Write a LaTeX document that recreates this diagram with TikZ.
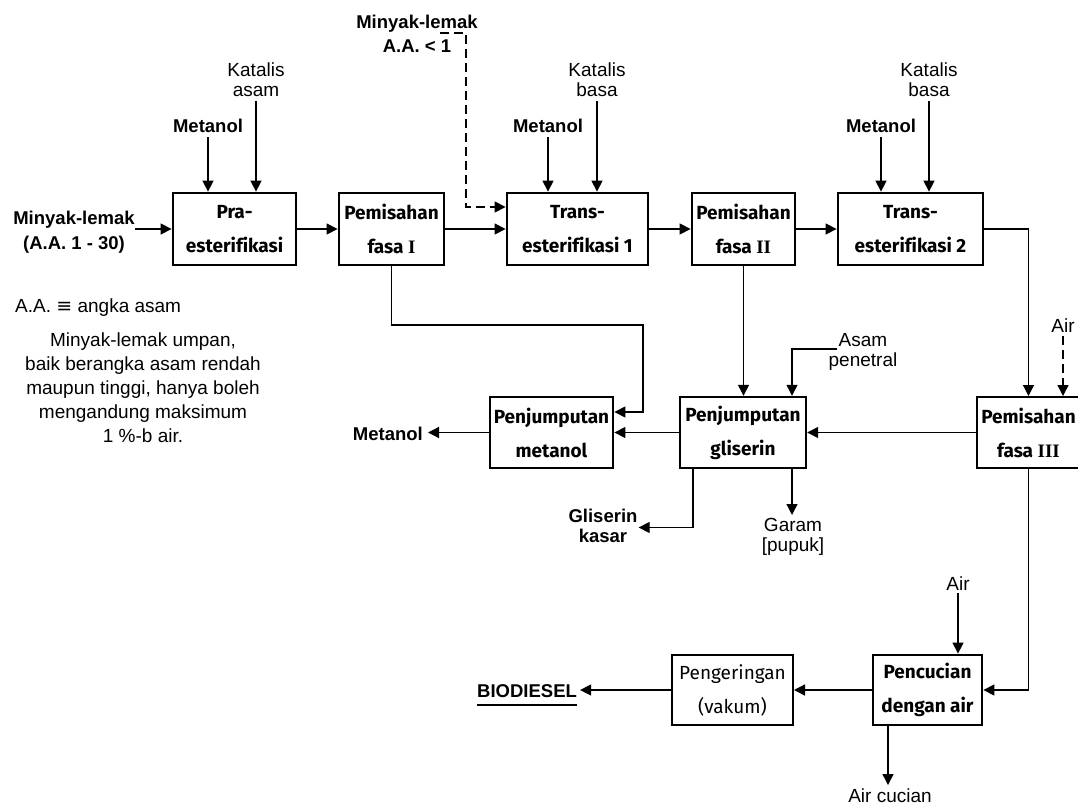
\documentclass[tikz,border=0pt]{standalone}
\usepackage{fontspec}
\setmainfont{Liberation Sans}
\newfontfamily\boxfont[Ligatures=NoCommon]{Fira Sans}
\newfontfamily\romnum{Liberation Serif}
\newfontfamily\symfont{DejaVu Sans}
\usetikzlibrary{arrows.meta}

\begin{document}
\begin{tikzpicture}[x=1pt,y=-1pt,
  heavy/.style={draw, line width=2.8pt, minimum height=72pt, inner sep=0pt,
    align=center, font=\boxfont\bfseries\fontsize{19}{34}\selectfont},
  light/.style={heavy, line width=2pt},
  conn/.style={line width=1.3pt},
  arr/.style={conn, -{Triangle[length=11pt,width=11pt]}},
  dasharr/.style={arr, dash pattern=on 9pt off 5pt},
  blab/.style={inner sep=0pt, align=center,
    font=\bfseries\fontsize{18.5}{24}\selectfont},
  tlab/.style={inner sep=0pt, align=center,
    font=\fontsize{19}{20}\selectfont},
]
\useasboundingbox (0,0) rectangle (1078,805);

% ---- process units ----
\node[heavy, minimum width=123pt] (pra) at (234.5,229) {Pra-\\esterifikasi};
\node[heavy, minimum width=105pt] (pf1) at (391.5,229) {Pemisahan\\fasa {\romnum I}};
\node[heavy, minimum width=141pt] (t1)  at (577.5,229) {Trans-\\esterifikasi 1};
\node[heavy, minimum width=103pt] (pf2) at (743.5,229) {Pemisahan\\fasa {\romnum II}};
\node[heavy, minimum width=145pt] (t2)  at (910.5,229) {Trans-\\esterifikasi 2};
\node[light, minimum width=103pt, minimum height=71pt] (pf3) at (1028.5,432.5) {Pemisahan\\fasa {\romnum III}};
\node[heavy, line width=2.4pt, minimum width=126pt, minimum height=71pt] (gli) at (743,432.5) {Penjumputan\\gliserin};
\node[heavy, minimum width=123pt, minimum height=71pt] (met) at (551.5,432.5) {Penjumputan\\metanol};
\node[light, minimum width=121pt, minimum height=70pt,
  font=\boxfont\fontsize{19}{34}\selectfont] (peng) at (732.5,690) {Pengeringan\\(vakum)};
\node[heavy, minimum width=109pt, minimum height=70pt] (pcc) at (927.5,690) {Pencucian\\dengan air};

% ---- stream labels ----
\node[blab, anchor=north, font=\bfseries\fontsize{18.5}{25}\selectfont] (oil1) at (74,210.5) {Minyak-lemak\\(A.A. 1 - 30)};
\node[blab, anchor=north] (oil2) at (417,14.5) {Minyak-lemak\\A.A. < 1};
\node[blab, anchor=base] (m1) at (208,133) {Metanol};
\node[blab, anchor=base] (m2) at (548,133) {Metanol};
\node[blab, anchor=base] (m3) at (881,133) {Metanol};
\node[tlab, anchor=north] (k1) at (256,63) {Katalis\\asam};
\node[tlab, anchor=north] (k2) at (597,63) {Katalis\\basa};
\node[tlab, anchor=north] (k3) at (929,63) {Katalis\\basa};
\node[tlab, anchor=base] (air1) at (1063,332) {Air};
\node[tlab, anchor=north] (asam) at (863,333) {Asam\\penetral};
\node[blab, anchor=base east] (mout) at (423,440) {Metanol};
\node[blab, anchor=north, font=\bfseries\fontsize{18.5}{20}\selectfont] (gk) at (603,508.5) {Gliserin\\kasar};
\node[tlab, anchor=north] (gar) at (793,518) {Garam\\{}[pupuk]};
\node[tlab, anchor=base] (air2) at (958,590) {Air};
\node[tlab, anchor=base] (acu) at (890,802) {Air cucian};
\node[blab, anchor=base west] (bio) at (477,697) {BIODIESEL};
\node[tlab, anchor=base west] (aa) at (15,312) {A.A. {\symfont ≡} angka asam};
\node[tlab, anchor=north, font=\fontsize{19}{24}\selectfont] (note) at (143,333)
  {Minyak-lemak umpan,\\baik berangka asam rendah\\maupun tinggi, hanya boleh\\mengandung maksimum\\1 \%-b air.};

% ---- bend points ----
\coordinate (d0) at (440,33);
\coordinate (d1) at (466,207);
\coordinate (j1) at (643,325);
\coordinate (j2) at (643,412);
\coordinate (a0) at (837,349);

% ---- streams ----
\draw[arr] (oil1.east |- pra.west) -- (pra.west);
\draw[arr, shorten <=4pt] (m1.south) -- (m1.south |- pra.north);
\draw[arr, shorten <=4pt] (k1.south) -- (k1.south |- pra.north);
\draw[arr] (pra.east) -- (pf1.west);
\draw[arr] (pf1.east) -- (t1.west);
\draw[dasharr] (d0) -| (d1) -- (d1 -| t1.west);
\draw[arr, shorten <=4pt] (m2.south) -- (m2.south |- t1.north);
\draw[arr, shorten <=4pt] (k2.south) -- (k2.south |- t1.north);
\draw[arr] (t1.east) -- (pf2.west);
\draw[arr] (pf2.east) -- (t2.west);
\draw[arr, shorten <=4pt] (m3.south) -- (m3.south |- t2.north);
\draw[arr, shorten <=4pt] (k3.south) -- (k3.south |- t2.north);
\draw[arr] (t2.east) -| (pf3.north);
\draw[dasharr, shorten <=4pt] (air1.south) -- (air1.south |- pf3.north);
\draw[arr] (pf1.south) |- (j1) -- (j2) -- (j2 -| met.east);
\draw[arr] (pf2.south) -- (pf2.south |- gli.north);
\draw[arr] (a0) -| ([xshift=49pt]gli.north);
\draw[arr] (pf3.west) -- (gli.east);
\draw[arr] (gli.west) -- (met.east);
\draw[arr, shorten >=5pt] (met.west) -- (met.west -| mout.east);
\draw[arr, shorten >=1pt] ([xshift=-50pt]gli.south) |- ([yshift=-2pt]gk.east);
\draw[arr, shorten >=3pt] ([xshift=49pt]gli.south) -- ([xshift=49pt]gli.south |- gar.north);
\draw[arr] (pf3.south) |- (pcc.east);
\draw[arr, shorten <=3pt] (air2.south) -- (air2.south |- pcc.north);
\draw[arr] (pcc.west) -- (peng.east);
\draw[arr, shorten >=3pt] (peng.west) -- (peng.west -| bio.east);
\draw[line width=2.6pt] ([yshift=-8pt]bio.base west) -- ([yshift=-8pt]bio.base east);
\draw[arr, shorten >=3pt] ([xshift=-39.5pt]pcc.south) -- ([xshift=-39.5pt]pcc.south |- acu.north);
\end{tikzpicture}
\end{document}
